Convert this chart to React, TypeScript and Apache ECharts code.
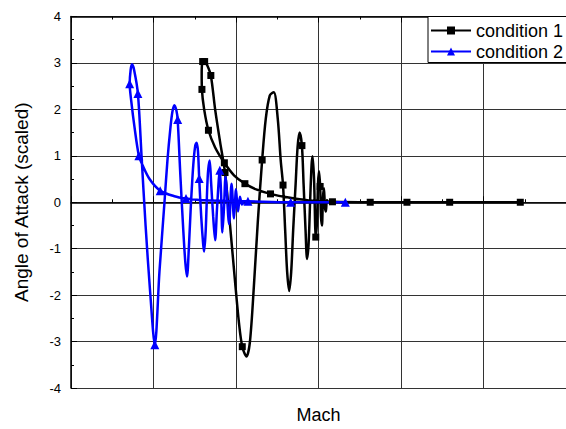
import React, { useEffect, useRef } from "react";
import * as echarts from "echarts";

// x in arbitrary Mach units (axis has no labels), y = scaled angle of attack
const cond1X = [
  5.446, 4.59, 4.072, 3.627, 3.169, 2.88, 2.639, 2.418, 2.253, 2.108, 1.976, 1.859, 1.747, 1.666, 1.614, 1.587,
  1.584, 1.596, 1.62, 1.651, 1.695, 1.747, 1.807, 1.867, 1.928, 1.988, 2.036, 2.076, 2.127, 2.169, 2.217, 2.265,
  2.317, 2.361, 2.41, 2.458, 2.506, 2.542, 2.57, 2.596, 2.62, 2.645, 2.669, 2.693, 2.723, 2.747, 2.771, 2.799,
  2.819, 2.843, 2.861, 2.88, 2.898, 2.916, 2.928, 2.946, 2.967, 2.982, 2.994, 3.006, 3.02, 3.03, 3.042, 3.054,
  3.066, 3.078, 3.09, 3.102, 3.12,
];
const cond1Y = [
  0, 0, 0, 0, 0.01, 0.04, 0.1, 0.18, 0.27, 0.4, 0.58, 0.85, 1.18, 1.55, 2.0, 2.43,
  2.8, 3.03, 3.03, 2.95, 2.73, 2.0, 1.3, 0.64, -0.5, -1.7, -2.6, -3.11, -3.32, -3.0, -1.8, -0.4,
  0.91, 1.8, 2.3, 2.37, 1.8, 0.9, 0.37, -0.6, -1.5, -1.91, -1.5, -0.6, 0.4, 1.2, 1.5, 1.22,
  0.4, -0.6, -1.22, -0.9, 0, 0.8, 0.99, 0.5, -0.75, -0.4, 0.4, 0.67, 0.34, -0.3, -0.5, 0.1,
  0.3, -0.1, -0.2, 0.05, 0,
];
const cond1Marker = [
  1, 1, 1, 1, 1, 0, 0, 1, 0, 1, 0, 1, 0, 1, 0, 1,
  0, 1, 1, 0, 1, 0, 0, 1, 0, 0, 0, 1, 0, 0, 0, 0,
  1, 0, 0, 0, 0, 0, 1, 0, 0, 0, 0, 0, 0, 0, 0, 1,
  0, 0, 0, 0, 0, 0, 0, 0, 1, 0, 0, 0, 1, 0, 0, 0,
  0, 0, 0, 0, 0,
];

const cond2X = [
  3.325, 2.663, 2.145, 1.795, 1.554, 1.394, 1.253, 1.081, 0.952, 0.867, 0.823, 0.771, 0.729, 0.711, 0.723, 0.739,
  0.765, 0.811, 0.855, 0.904, 0.958, 1.016, 1.072, 1.133, 1.169, 1.205, 1.229, 1.253, 1.277, 1.293, 1.325, 1.361,
  1.386, 1.406, 1.428, 1.452, 1.482, 1.506, 1.522, 1.539, 1.554, 1.578, 1.602, 1.614, 1.633, 1.651, 1.663, 1.681,
  1.699, 1.723, 1.747, 1.771, 1.804, 1.819, 1.835, 1.855, 1.873, 1.916, 1.946, 1.976, 2.0, 2.024, 2.048, 2.072,
  2.096,
];
const cond2Y = [
  0, 0, 0.02, 0.03, 0.05, 0.08, 0.13, 0.25, 0.5, 0.8, 1.0, 1.6, 2.2, 2.55, 2.85, 2.97,
  2.85, 2.34, 1.0, -0.5, -1.9, -3.07, -1.5, 0, 0.9, 1.6, 1.95, 2.09, 1.98, 1.78, 0.6, -0.6,
  -1.3, -1.6, -1.0, -0.1, 0.8, 1.22, 1.28, 1.1, 0.51, -0.3, -0.9, -1.06, -0.6, 0.3, 0.7, 0.9,
  0.4, -0.3, -0.82, -0.1, 0.69, 0.2, -0.65, -0.1, 0.55, -0.47, 0.4, -0.35, 0.28, -0.2, 0.12, -0.05,
  0,
];
const cond2Marker = [
  1, 1, 1, 0, 0, 1, 0, 1, 0, 0, 1, 0, 0, 1, 0, 0,
  0, 1, 0, 0, 0, 1, 0, 0, 0, 0, 0, 0, 0, 1, 0, 0,
  0, 0, 0, 0, 0, 0, 0, 0, 1, 0, 0, 0, 0, 0, 0, 0,
  0, 0, 0, 0, 1, 0, 0, 0, 0, 0, 0, 0, 0, 0, 0, 0,
  0,
];

const yTicks = [-4, -3, -2, -1, 0, 1, 2, 3, 4];
const seriesNames = ["condition 1", "condition 2"];

function buildData(xs: number[], ys: number[], marks: number[]) {
  return xs.map((x, i) =>
    marks[i] ? { value: [x, ys[i]] } : { value: [x, ys[i]], symbol: "none" }
  );
}

const FONT = "'Liberation Sans', Arial, sans-serif";

export default function App() {
  const ref = useRef<HTMLDivElement>(null);
  useEffect(() => {
    if (!ref.current) return;
    const chart = echarts.init(ref.current, undefined, { renderer: "svg" });
    const axisCommon = {
      axisLine: { show: true, lineStyle: { color: "#000", width: 1.5 } },
      axisTick: { show: true, inside: true, length: 6, lineStyle: { color: "#000", width: 1 } },
      minorTick: { show: true, splitNumber: 2, length: 3, lineStyle: { color: "#000", width: 1 } },
    };
    chart.setOption({
      animation: false,
      backgroundColor: "#fff",
      grid: { left: 71, top: 16.5, right: 0, height: 379, containLabel: false },
      graphic: [
        {
          type: "rect",
          z: 3,
          shape: { x: 428, y: 16.5, width: 139, height: 46 },
          style: { fill: "#fff", stroke: "#000", lineWidth: 1 },
        },
      ],
      legend: {
        orient: "vertical",
        left: 428,
        top: 16.5,
        padding: [5, 2, 2, 2],
        itemGap: 3,
        itemWidth: 40,
        itemHeight: 10,
        textStyle: { fontFamily: FONT, fontSize: 18, color: "#000" },
        data: seriesNames,
      },
      xAxis: [
        {
          type: "value",
          min: 0,
          max: 6,
          interval: 1,
          position: "bottom",
          name: "Mach",
          nameLocation: "middle",
          nameGap: 18,
          nameTextStyle: { fontFamily: FONT, fontSize: 18, color: "#000" },
          axisLabel: { show: false },
          splitLine: { show: true, showMaxLine: false, lineStyle: { color: "#333", width: 1 } },
          ...axisCommon,
        },
        {
          type: "value",
          min: 0,
          max: 6,
          interval: 1,
          position: "top",
          axisLabel: { show: false },
          splitLine: { show: false },
          ...axisCommon,
        },
      ],
      yAxis: {
        type: "value",
        min: yTicks[0],
        max: yTicks[yTicks.length - 1],
        interval: 1,
        name: "Angle of Attack (scaled)",
        nameLocation: "middle",
        nameRotate: 90,
        nameGap: 40,
        nameTextStyle: { fontFamily: FONT, fontSize: 19, color: "#000" },
        axisLabel: { fontFamily: FONT, fontSize: 13, color: "#000", margin: 10 },
        splitLine: { show: true, lineStyle: { color: "#333", width: 1 } },
        ...axisCommon,
      },
      series: [
        {
          name: seriesNames[0],
          type: "line",
          smooth: 0.3,
          symbol: "rect",
          symbolSize: 7,
          showAllSymbol: true,
          lineStyle: { color: "#000", width: 2.5 },
          itemStyle: { color: "#000" },
          data: buildData(cond1X, cond1Y, cond1Marker),
        },
        {
          name: seriesNames[1],
          type: "line",
          smooth: 0.3,
          symbol: "triangle",
          symbolSize: 9,
          showAllSymbol: true,
          lineStyle: { color: "#0000ff", width: 2.5 },
          itemStyle: { color: "#0000ff" },
          data: buildData(cond2X, cond2Y, cond2Marker),
        },
      ],
    });
    return () => chart.dispose();
  }, []);
  return (
    <div
      ref={ref}
      style={{
        position: "absolute",
        left: 0,
        top: 0,
        width: 566,
        height: 429,
        overflow: "hidden",
        background: "#fff",
      }}
    />
  );
}
